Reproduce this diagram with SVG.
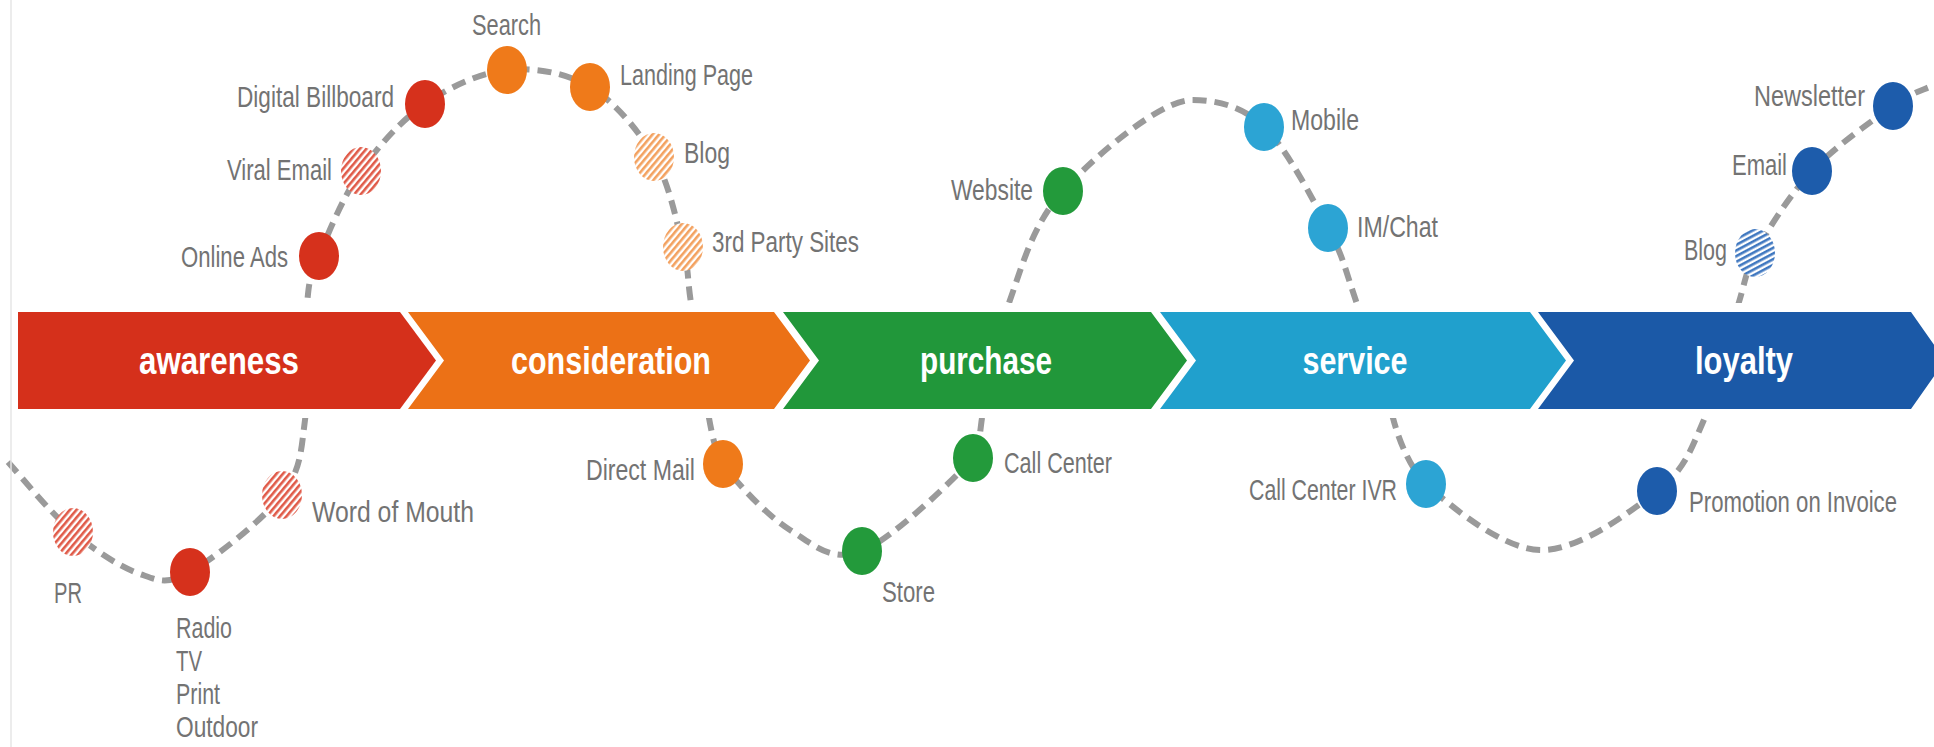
<svg xmlns="http://www.w3.org/2000/svg" width="1934" height="747" viewBox="0 0 1934 747">
<style>
.lbl{font-family:"Liberation Sans",Arial,sans-serif;font-size:30px;fill:#737373;}
.stage{font-family:"Liberation Sans",Arial,sans-serif;font-size:38px;font-weight:bold;fill:#ffffff;text-anchor:middle;}
.dash{fill:none;stroke:#9a9a9a;stroke-width:6;stroke-dasharray:14 8;}
.red{fill:#d6311c;}
.org{fill:#ef7a1a;}
.grn{fill:#239a3b;}
.lbl2{fill:#2ca4d4;}
.dbl{fill:#1d5cab;}
</style>
<defs>
<pattern id="hatchRed" patternUnits="userSpaceOnUse" width="5" height="5" patternTransform="rotate(-50)"><rect width="5" height="5" fill="#ffffff"/><rect width="5" height="2.6" fill="#e05a48"/></pattern>
<pattern id="hatchOrg" patternUnits="userSpaceOnUse" width="5" height="5" patternTransform="rotate(-50)"><rect width="5" height="5" fill="#ffffff"/><rect width="5" height="2.6" fill="#f3a15f"/></pattern>
<pattern id="hatchBlue" patternUnits="userSpaceOnUse" width="5" height="5" patternTransform="rotate(-28)"><rect width="5" height="5" fill="#ffffff"/><rect width="5" height="2.6" fill="#4078c0"/></pattern>
</defs>
<rect x="0" y="0" width="1934" height="747" fill="#ffffff"/>

<g id="connectors">
<path class="dash" d="M 8 462 C 26.8 483.2, 51 513.3, 73 532 C 95 550.7, 120.5 567.3, 140 574 C 159.5 580.7, 166.3 585.2, 190 572 C 213.7 558.8, 262.8 520.3, 282 495 C 301.2 469.7, 300.8 451.7, 305 420 C 309.2 388.3, 304.7 332.3, 307 305 C 309.3 277.7, 310 278.3, 319 256 C 328 233.7, 343.3 196.3, 361 171 C 378.7 145.7, 400.7 120.8, 425 104 C 449.3 87.2, 479.5 72.8, 507 70 C 534.5 67.2, 565.5 72.5, 590 87 C 614.5 101.5, 638.5 130.3, 654 157 C 669.5 183.7, 676.8 222.7, 683 247 C 689.2 271.3, 686.7 274.5, 691 303 C 695.3 331.5, 703.7 391.2, 709 418 C 713 440, 716 452, 723 464 C 736.5 482.7, 766.8 515.5, 790 530 C 813.2 544.5, 831.5 563, 862 551 C 892.5 539, 953 480.2, 973 458 C 980 445, 980 430, 982 418 C 988 392.2, 995.5 340.8, 1009 303 C 1022.5 265.2, 1032.5 224.8, 1063 191 C 1093.5 157.2, 1160 100, 1192 100 C 1220 100, 1245 108, 1264 127 C 1286.7 148.3, 1312.8 199.5, 1328 228 C 1343.2 256.5, 1344.2 266.3, 1355 298 C 1365.8 329.7, 1381.2 387, 1393 418 C 1400 445, 1412 470, 1426 484 C 1450.5 506, 1501.5 548.8, 1540 550 C 1578.5 551.2, 1629.8 512.3, 1657 491 C 1684.2 469.7, 1689.3 453.5, 1703 422 C 1716.7 390.5, 1730.3 330.2, 1739 302 C 1744 286, 1747 268, 1755 253 C 1767.2 231.2, 1789 195.5, 1812 171 C 1835 146.5, 1872.7 120.3, 1893 106 C 1913.3 91.7, 1921.2 91, 1934 85 L 1950 78"/>
</g>

<rect x="0" y="303" width="1934" height="115" fill="#ffffff"/>
<line x1="11" y1="0" x2="11" y2="747" stroke="#e6e6e6" stroke-width="1.5"/>

<g id="stage-awareness">
<polygon points="18,312 400,312 436,360.5 400,409 18,409" fill="#d5301b"/>
<text class="stage" x="219" y="374" textLength="160" lengthAdjust="spacingAndGlyphs">awareness</text>
</g>
<g id="stage-consideration">
<polygon points="408,312 774,312 810,360.5 774,409 408,409 444,360.5" fill="#ec7116"/>
<text class="stage" x="611" y="374" textLength="200" lengthAdjust="spacingAndGlyphs">consideration</text>
</g>
<g id="stage-purchase">
<polygon points="783,312 1151,312 1187,360.5 1151,409 783,409 819,360.5" fill="#21973a"/>
<text class="stage" x="986" y="374" textLength="132" lengthAdjust="spacingAndGlyphs">purchase</text>
</g>
<g id="stage-service">
<polygon points="1160,312 1530,312 1566,360.5 1530,409 1160,409 1196,360.5" fill="#20a0cd"/>
<text class="stage" x="1355" y="374" textLength="105" lengthAdjust="spacingAndGlyphs">service</text>
</g>
<g id="stage-loyalty">
<polygon points="1538,312 1911,312 1945,360.5 1911,409 1538,409 1574,360.5" fill="#1b59a7"/>
<text class="stage" x="1744" y="374" textLength="98" lengthAdjust="spacingAndGlyphs">loyalty</text>
</g>

<g id="node-pr">
<ellipse cx="73" cy="532" rx="20" ry="24" fill="url(#hatchRed)"/>
<text class="lbl" x="54" y="603" textLength="28" lengthAdjust="spacingAndGlyphs">PR</text>
</g>
<g id="node-radio">
<ellipse class="red" cx="190" cy="572" rx="20" ry="24"/>
<text class="lbl" x="176" y="638" textLength="56" lengthAdjust="spacingAndGlyphs">Radio</text>
<text class="lbl" x="176" y="671" textLength="26" lengthAdjust="spacingAndGlyphs">TV</text>
<text class="lbl" x="176" y="704" textLength="44" lengthAdjust="spacingAndGlyphs">Print</text>
<text class="lbl" x="176" y="737" textLength="82" lengthAdjust="spacingAndGlyphs">Outdoor</text>
</g>
<g id="node-word-of-mouth">
<ellipse cx="282" cy="495" rx="20" ry="24" fill="url(#hatchRed)"/>
<text class="lbl" x="312" y="522" textLength="162" lengthAdjust="spacingAndGlyphs">Word of Mouth</text>
</g>
<g id="node-online-ads">
<ellipse class="red" cx="319" cy="256" rx="20" ry="24"/>
<text class="lbl" x="181" y="267" textLength="107" lengthAdjust="spacingAndGlyphs">Online Ads</text>
</g>
<g id="node-viral-email">
<ellipse cx="361" cy="171" rx="20" ry="24" fill="url(#hatchRed)"/>
<text class="lbl" x="227" y="180" textLength="105" lengthAdjust="spacingAndGlyphs">Viral Email</text>
</g>
<g id="node-digital-billboard">
<ellipse class="red" cx="425" cy="104" rx="20" ry="24"/>
<text class="lbl" x="237" y="107" textLength="157" lengthAdjust="spacingAndGlyphs">Digital Billboard</text>
</g>
<g id="node-search">
<ellipse class="org" cx="507" cy="70" rx="20" ry="24"/>
<text class="lbl" x="472" y="35" textLength="69" lengthAdjust="spacingAndGlyphs">Search</text>
</g>
<g id="node-landing-page">
<ellipse class="org" cx="590" cy="87" rx="20" ry="24"/>
<text class="lbl" x="620" y="85" textLength="133" lengthAdjust="spacingAndGlyphs">Landing Page</text>
</g>
<g id="node-blog-consideration">
<ellipse cx="654" cy="157" rx="20" ry="24" fill="url(#hatchOrg)"/>
<text class="lbl" x="684" y="163" textLength="46" lengthAdjust="spacingAndGlyphs">Blog</text>
</g>
<g id="node-3rd-party-sites">
<ellipse cx="683" cy="247" rx="20" ry="24" fill="url(#hatchOrg)"/>
<text class="lbl" x="712" y="252" textLength="147" lengthAdjust="spacingAndGlyphs">3rd Party Sites</text>
</g>
<g id="node-direct-mail">
<ellipse class="org" cx="723" cy="464" rx="20" ry="24"/>
<text class="lbl" x="586" y="480" textLength="109" lengthAdjust="spacingAndGlyphs">Direct Mail</text>
</g>
<g id="node-store">
<ellipse class="grn" cx="862" cy="551" rx="20" ry="24"/>
<text class="lbl" x="882" y="602" textLength="53" lengthAdjust="spacingAndGlyphs">Store</text>
</g>
<g id="node-call-center">
<ellipse class="grn" cx="973" cy="458" rx="20" ry="24"/>
<text class="lbl" x="1004" y="473" textLength="108" lengthAdjust="spacingAndGlyphs">Call Center</text>
</g>
<g id="node-website">
<ellipse class="grn" cx="1063" cy="191" rx="20" ry="24"/>
<text class="lbl" x="951" y="200" textLength="82" lengthAdjust="spacingAndGlyphs">Website</text>
</g>
<g id="node-mobile">
<ellipse class="lbl2" cx="1264" cy="127" rx="20" ry="24"/>
<text class="lbl" x="1291" y="130" textLength="68" lengthAdjust="spacingAndGlyphs">Mobile</text>
</g>
<g id="node-im-chat">
<ellipse class="lbl2" cx="1328" cy="228" rx="20" ry="24"/>
<text class="lbl" x="1357" y="237" textLength="81" lengthAdjust="spacingAndGlyphs">IM/Chat</text>
</g>
<g id="node-call-center-ivr">
<ellipse class="lbl2" cx="1426" cy="484" rx="20" ry="24"/>
<text class="lbl" x="1249" y="500" textLength="148" lengthAdjust="spacingAndGlyphs">Call Center IVR</text>
</g>
<g id="node-promotion-on-invoice">
<ellipse class="dbl" cx="1657" cy="491" rx="20" ry="24"/>
<text class="lbl" transform="translate(1689 512) scale(0.7376 1)" x="0" y="0" textLength="282" lengthAdjust="spacingAndGlyphs">Promotion on Invoice</text>
</g>
<g id="node-blog-loyalty">
<ellipse cx="1755" cy="253" rx="20" ry="24" fill="url(#hatchBlue)"/>
<text class="lbl" x="1684" y="260" textLength="43" lengthAdjust="spacingAndGlyphs">Blog</text>
</g>
<g id="node-email">
<ellipse class="dbl" cx="1812" cy="171" rx="20" ry="24"/>
<text class="lbl" x="1732" y="175" textLength="55" lengthAdjust="spacingAndGlyphs">Email</text>
</g>
<g id="node-newsletter">
<ellipse class="dbl" cx="1893" cy="106" rx="20" ry="24"/>
<text class="lbl" x="1754" y="106" textLength="111" lengthAdjust="spacingAndGlyphs">Newsletter</text>
</g>
</svg>
